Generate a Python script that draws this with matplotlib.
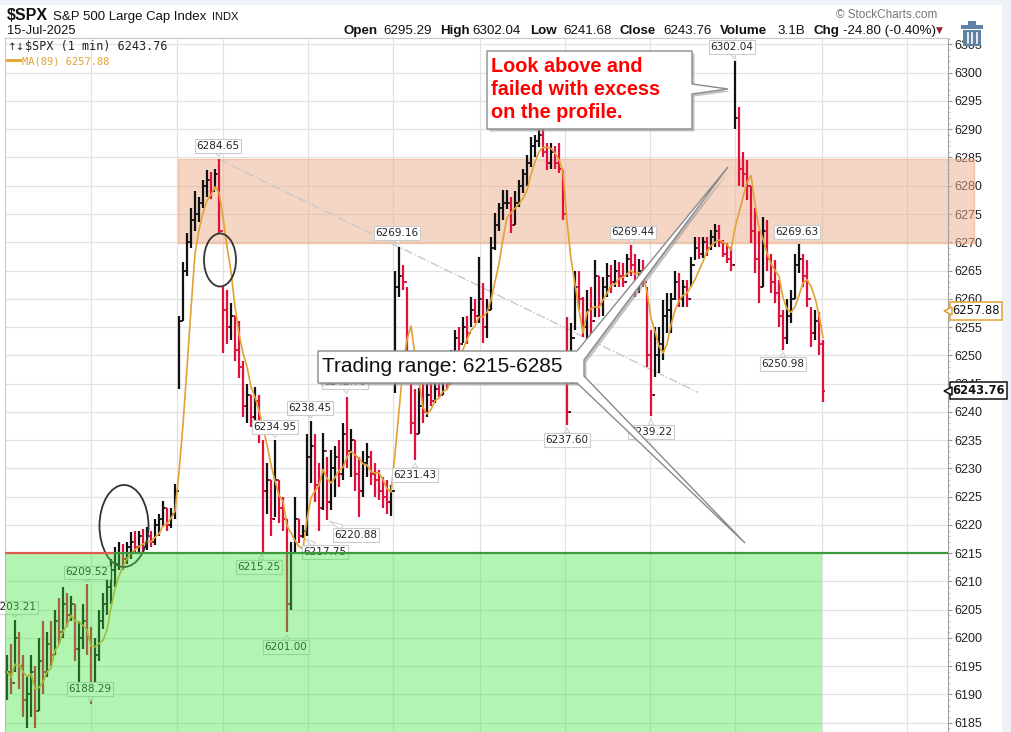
import numpy as np
import pandas as pd
import matplotlib
matplotlib.use("Agg")
import matplotlib.pyplot as plt
import matplotlib.transforms as mtransforms
from matplotlib.patches import Rectangle, Ellipse, Polygon
from matplotlib.lines import Line2D
from matplotlib.ticker import MultipleLocator

plt.rcParams['font.family'] = ['Liberation Sans', 'DejaVu Sans']

# ---------------- data ----------------
highs = [
    6197, 6199, 6203.21, 6201, 6197, 6193, 6197, 6195, 6200, 6203,
    6201, 6203, 6205, 6207, 6209, 6208, 6207.5, 6206, 6203, 6206,
    6209.52, 6202, 6200, 6205, 6208, 6211, 6214, 6216, 6216.9, 6216.7,
    6217, 6218.7, 6219, 6219, 6219.3, 6219.6, 6219, 6221, 6222, 6224.3,
    6223, 6223, 6227.3,
    6257, 6266.5, 6271.6, 6276, 6279, 6278, 6281, 6282.8, 6282.5, 6283, 6284.65,
    6262, 6261.5, 6259.2, 6257, 6256, 6249, 6245, 6243, 6244.4, 6243,
    6235, 6231, 6228, 6234.95, 6228, 6225, 6221, 6217, 6225, 6221,
    6220, 6236, 6238.45, 6236, 6231, 6236.2, 6232, 6233.2, 6234, 6235,
    6238, 6242.70, 6237, 6235, 6232, 6233, 6234.5, 6233, 6231, 6229.7,
    6228.5, 6228, 6227,
    6265, 6269.16, 6266, 6262, 6247, 6244, 6244.3, 6245, 6245, 6245.6,
    6246, 6246, 6247.4, 6248, 6251, 6254.5, 6255, 6256.8, 6257, 6260.3,
    6260, 6267.4, 6262.8, 6260, 6271, 6275.1, 6277, 6279.2, 6279.2, 6278,
    6279, 6281, 6283, 6285.5, 6288.6, 6289, 6289.8, 6290.2, 6287.5, 6287.5,
    6287, 6287.5, 6282.8,
    6256.8, 6255.7, 6265, 6265, 6260.3, 6261.5, 6262, 6266.8, 6264, 6263.8,
    6266.3, 6266, 6266.8, 6266.5, 6266.3, 6268, 6269.44, 6268, 6267, 6266.8,
    6262, 6254.5, 6255, 6255, 6259.8, 6261, 6261, 6265, 6264.5, 6263.3,
    6263.3, 6267.4, 6271, 6271, 6271, 6271, 6272.2, 6273.3, 6273, 6270.4,
    6269.8, 6269.2,
    6302.04, 6294, 6286, 6284.5, 6280, 6276, 6272, 6274.5, 6274, 6268,
    6266.8, 6263.3, 6258, 6260, 6261.5, 6268, 6269.63, 6268, 6266.8, 6258.5,
    6258, 6257.6, 6252.7,
]
lows = [
    6189, 6190, 6194, 6191, 6186, 6184, 6186, 6184, 6187, 6190,
    6193, 6195, 6197, 6199, 6200, 6202, 6203, 6196, 6191, 6198,
    6197, 6188.29, 6190, 6196, 6201.5, 6204, 6206, 6209, 6212, 6212,
    6213, 6214, 6215, 6215, 6215, 6215.5, 6216, 6216.5, 6218, 6219.6,
    6219, 6219.5, 6221,
    6244, 6256, 6264, 6269, 6272, 6273.5, 6276, 6278, 6277.6, 6279.5, 6271.6,
    6250.4, 6252, 6252.7, 6249, 6246, 6239, 6238, 6237.3, 6236, 6234.5,
    6215.25, 6222, 6218, 6221.4, 6220.3, 6219, 6201.00, 6205, 6215, 6216.8,
    6217.75, 6218, 6227.4, 6224, 6219, 6222.6, 6220.88, 6222.6, 6225, 6226.7,
    6228, 6230, 6228.4, 6226, 6221.4, 6225, 6228.4, 6227, 6225, 6224.4,
    6223, 6222, 6221.5,
    6243.3, 6260.3, 6261.5, 6246.2, 6236, 6231.43, 6236, 6238, 6239, 6241,
    6241.5, 6242.6, 6243, 6243.8, 6245, 6249, 6250.4, 6252.2, 6252, 6255,
    6255.7, 6255.7, 6252.2, 6253, 6258, 6268.6, 6272, 6273.9, 6275.8, 6271.6,
    6273, 6276.2, 6278.7, 6280, 6283.3, 6285, 6286.8, 6285, 6282.8, 6283,
    6283, 6282.2, 6273.9,
    6237.60, 6245, 6254.5, 6258, 6253.2, 6250.9, 6252, 6256.8, 6256.8, 6257,
    6260.3, 6261, 6262, 6262, 6262, 6263.8, 6264, 6260.3, 6261, 6262,
    6248, 6239.22, 6246.2, 6246.8, 6249.2, 6254, 6254, 6259.8, 6258.5, 6258.5,
    6258.5, 6262, 6266.8, 6267, 6267.2, 6267.5, 6268.6, 6269.2, 6269.2, 6267.4,
    6266.3, 6265,
    6290, 6280, 6279.8, 6277.5, 6269.8, 6264.5, 6259.2, 6262, 6265, 6261,
    6259.2, 6255, 6250.98, 6252, 6255.7, 6260, 6264.5, 6262, 6258.5, 6251.5,
    6252.7, 6250, 6241.68,
]
closes = [
    6194, 6192, 6200, 6195, 6189, 6190, 6194, 6187, 6196, 6194,
    6199, 6197, 6203, 6201, 6206, 6204, 6206, 6198, 6200, 6203,
    6200, 6192, 6197, 6203, 6206, 6209, 6212, 6213, 6215, 6214,
    6216, 6217, 6216, 6218, 6216, 6218, 6217, 6220, 6221, 6223,
    6220, 6222, 6226,
    6256, 6265, 6270, 6274, 6275, 6277, 6280, 6281, 6279, 6282, 6272,
    6258, 6255, 6257, 6251, 6248, 6241, 6243, 6239, 6242, 6236,
    6226, 6228, 6221, 6228, 6223, 6221, 6206, 6215, 6221, 6218,
    6219, 6232, 6234, 6227, 6223, 6233, 6224, 6230, 6232, 6229,
    6236, 6233, 6235, 6229, 6226, 6231, 6232, 6229, 6228, 6226,
    6225, 6224, 6226,
    6262, 6264, 6263, 6249, 6238, 6236, 6241, 6240, 6243, 6242,
    6244, 6243, 6246, 6245, 6250, 6253, 6252, 6255, 6254, 6258,
    6257, 6260, 6255, 6258, 6269, 6273, 6276, 6277, 6277, 6273,
    6277, 6280, 6282, 6284, 6287, 6288, 6289, 6286, 6284, 6286,
    6284, 6283, 6275,
    6240, 6253, 6262, 6260, 6255, 6258, 6256, 6264, 6259, 6262,
    6264, 6263, 6265, 6264, 6263, 6267, 6266, 6262, 6265, 6263,
    6250, 6243, 6250, 6252, 6257, 6258, 6260, 6263, 6260, 6262,
    6260, 6266, 6269, 6268, 6270, 6269, 6271, 6272, 6270, 6268,
    6267, 6266,
    6292, 6283, 6282, 6280, 6272, 6267, 6262, 6272, 6267, 6263,
    6261, 6257, 6253, 6257, 6260, 6266, 6267, 6264, 6260, 6254,
    6256, 6252, 6243.76,
]
ma_window_bars = 5                   # MA(89) of 1-min bars ~ 5 plotted bars
ma_reported = 6257.88
y_ticks = list(range(6185, 6306, 5))
day_boundaries = [21, 42.5, 54, 75.25, 96.5, 118.25, 139.5, 160.75, 182, 203.75, 225]
trading_range = (6215, 6285)
resistance_zone = (6269.8, 6284.65)

# labelled highs/lows: value, kind, label offset (px)
label_specs = [
    (6284.65, 'H', -1, 13.5), (6269.16, 'H', -2, 14), (6302.04, 'H', -3, 14),
    (6269.44, 'H', 2, 13), (6269.63, 'H', -2, 12.5), (6242.70, 'H', -2, 14.5),
    (6238.45, 'H', -1, 12.6), (6234.95, 'H', 0, 13.4), (6231.43, 'L', 0, -14.7),
    (6237.60, 'L', 0, -14.6), (6239.22, 'L', 0, -16), (6250.98, 'L', 0, -14.3),
    (6220.88, 'L', 29, -15), (6217.75, 'L', 22, -14.3), (6215.25, 'L', -4, -15),
    (6201.00, 'L', -1, -15), (6209.52, 'H', 0, 11.6), (6203.21, 'H', 0, 12.3),
    (6188.29, 'L', -1, 15),
]

# ---------------- figure ----------------
W, H = 1011, 732
fig = plt.figure(figsize=(W / 100, H / 100), dpi=100)
fig.patch.set_facecolor('white')


def fx(x):
    return x / W


def fy(y):
    return 1 - y / H


ax = fig.add_axes([fx(5), 0, fx(948) - fx(5), fy(37.5)])
ax.set_xlim(-0.5, 235.25)
ax.set_ylim(6183.35, 6306.23)

idx = np.arange(len(closes))
hi = np.array(highs)
lo = np.array(lows)
cl = np.array(closes)
op = np.concatenate([[cl[0]], cl[:-1]])
cols = np.where(cl >= op, '#111111', '#e0103c')

# grid
ax.set_yticks(y_ticks)
ax.set_xticks(day_boundaries)
ax.tick_params(axis='x', length=0, labelbottom=False)
ax.grid(True, color='#e2e2e2', lw=0.9, zorder=0)
ax.set_axisbelow(True)
ax.yaxis.tick_right()
ax.yaxis.set_minor_locator(MultipleLocator(1))
ax.tick_params(axis='y', which='major', length=3, width=0.8, color='#999999',
               pad=1.5, labelsize=9, labelcolor='#222222')
ax.tick_params(axis='y', which='minor', length=1.5, width=0.6, color='#bbbbbb')
for s in ['top', 'left']:
    ax.spines[s].set_color('#c8c8c8')
ax.spines['right'].set_color('#a0a0a0')
ax.spines['bottom'].set_visible(False)

# resistance zone (orange)
ax.add_patch(Rectangle((42.75, resistance_zone[0]), 241.75 - 42.75,
                       resistance_zone[1] - resistance_zone[0],
                       fc='#edaf8d', alpha=0.5, ec='#f0a070', lw=1,
                       zorder=0.6, clip_on=False))

# trend line through the two highs
i1 = highs.index(6284.65)
i2 = highs.index(6269.16)
slope = (6269.16 - 6284.65) / (i2 - i1)
x_end = 172.75
ax.plot([i1, x_end], [6284.65, 6284.65 + slope * (x_end - i1)],
        color='#c8c8c8', lw=1, ls='-.', zorder=1.5)

# bars
ax.vlines(idx, lo, hi, colors=cols, lw=1.6, zorder=3)
ax.hlines(op, idx - 0.55, idx, colors=cols, lw=1.3, zorder=3)
ax.hlines(cl, idx, idx + 0.55, colors=cols, lw=1.3, zorder=3)

# moving average
ma = pd.Series(cl).rolling(ma_window_bars, min_periods=1).mean()
ax.plot(idx, ma, color='#e2a232', lw=1.2, zorder=3.2)

# high / low labels
for val, kind, dx, dy in label_specs:
    i = (highs if kind == 'H' else lows).index(val)
    ax.annotate(f'{val:.2f}', xy=(i, val), xytext=(dx, dy),
                textcoords='offset pixels', ha='center', va='center',
                fontsize=7.5, color='#222222', family='DejaVu Sans',
                bbox=dict(boxstyle='square,pad=0.18', fc='white', ec='#cccccc', lw=0.8),
                arrowprops=dict(arrowstyle='wedge,tail_width=0.5,shrink_factor=0.5',
                                fc='white', ec='#cccccc', lw=0.7, shrinkA=0, shrinkB=2),
                zorder=4, annotation_clip=False)

# ellipses
ax.add_patch(Ellipse((29.25, 6219.8), 12.25, 14.5, fill=False, ec='#333333', lw=1.3, zorder=4.2))
ax.add_patch(Ellipse((53.25, 6266.86), 8, 9.38, fill=False, ec='#333333', lw=1.3, zorder=4.2))

# support zone (green overlay)
ax.add_patch(Rectangle((-0.5, 6170), 203.75 + 0.5, trading_range[0] - 6170,
                       fc='#40e640', alpha=0.4, ec='none', zorder=4.5))
ax.plot([-0.5, 27], [trading_range[0]] * 2, color='#e05a50', lw=1.6, zorder=4.6)
ax.plot([27, 235.25], [trading_range[0]] * 2, color='#3c9a3c', lw=1.6, zorder=4.6)

# right-side value flags
blend = mtransforms.blended_transform_factory(ax.transAxes, ax.transData)
for val, ec, bold in [(ma_reported, '#e2a232', False), (closes[-1], '#111111', True)]:
    ax.annotate(f'{val:.2f}', xy=(1.0, val), xycoords=blend, xytext=(4, 0),
                textcoords='offset pixels', ha='left', va='center', fontsize=8.3,
                family='DejaVu Sans', fontweight='bold' if bold else 'normal',
                color='#111111',
                bbox=dict(boxstyle='square,pad=0.2', fc='white', ec=ec, lw=1.1),
                annotation_clip=False, zorder=6)
    ax.plot([1.0], [val], marker='<', ms=6, mfc='white', mec=ec, mew=1.1,
            transform=blend, clip_on=False, zorder=6.5)

# ---------------- figure-level decorations ----------------
fig.add_artist(Rectangle((0, fy(5)), 1, 5 / H, transform=fig.transFigure,
                         fc='#eef2f7', ec='none', zorder=-1))
fig.add_artist(Rectangle((fx(1002), 0), 1 - fx(1002), 1, transform=fig.transFigure,
                         fc='#eef2f7', ec='none', zorder=-1))

# header
fig.text(fx(7), fy(20), '$SPX', fontsize=11.5, fontweight='bold', color='#111111')
fig.text(fx(53), fy(20), 'S&P 500 Large Cap Index', fontsize=9.5, color='#111111')
fig.text(fx(212), fy(20), 'INDX', fontsize=8, color='#111111')
fig.text(fx(7), fy(34), '15-Jul-2025', fontsize=9.3, color='#111111')
fig.text(fx(836), fy(18), '© StockCharts.com', fontsize=8.5, color='#777777')
pieces = [('Open', True, 343), ('6295.29', False, 383), ('High', True, 440),
          ('6302.04', False, 472), ('Low', True, 530), ('6241.68', False, 563),
          ('Close', True, 620), ('6243.76', False, 663), ('Volume', True, 720),
          ('3.1B', False, 777), ('Chg', True, 813), ('-24.80 (-0.40%)', False, 843)]
for t, b, x in pieces:
    fig.text(fx(x), fy(34), t, fontsize=9.6, fontweight='bold' if b else 'normal',
             color='#111111')
fig.text(fx(936), fy(33), '▼', fontsize=6.5, color='#9b1b30', family='DejaVu Sans')

# legend inside plot
fig.text(fx(7.5), fy(50), '↑↓', fontsize=7.5, color='#222222', family='DejaVu Sans')
fig.text(fx(25), fy(50), '$SPX (1 min) 6243.76', fontsize=8.5, color='#222222',
         family='DejaVu Sans Mono')
fig.add_artist(Line2D([fx(7), fx(20)], [fy(60), fy(60)], transform=fig.transFigure,
                      color='#e2a232', lw=2))
fig.text(fx(22), fy(64), 'MA(89) 6257.88', fontsize=7.5, color='#e2a232',
         family='DejaVu Sans Mono')

# trash icon
icon = '#5f81a3'
fig.add_artist(Rectangle((fx(968), fy(25)), fx(8), 4 / H, transform=fig.transFigure,
                         fc=icon, ec='none', zorder=7))
fig.add_artist(Rectangle((fx(961), fy(29)), fx(22), 4 / H, transform=fig.transFigure,
                         fc=icon, ec='none', zorder=7))
fig.add_artist(Rectangle((fx(963), fy(46)), fx(18), 16 / H, transform=fig.transFigure,
                         fc=icon, ec='none', zorder=7))
for xs in (967.5, 972, 976.5):
    fig.add_artist(Line2D([fx(xs), fx(xs)], [fy(33), fy(43)], transform=fig.transFigure,
                          color='white', lw=1.2, zorder=7.5))


def callout(pts, z=8):
    sh = [(x + 2.5, y + 2.5) for x, y in pts]
    fig.add_artist(Polygon([(fx(x), fy(y)) for x, y in sh], closed=True,
                           transform=fig.transFigure, fc='#9a9a9a', ec='none',
                           alpha=0.6, zorder=z))
    fig.add_artist(Polygon([(fx(x), fy(y)) for x, y in pts], closed=True,
                           transform=fig.transFigure, fc='white', ec='#8a8a8a',
                           lw=1, zorder=z + 0.1))


callout([(487, 51), (692, 51), (692, 84), (728, 89), (692, 94), (692, 129), (487, 129)])
for t, yb in [('Look above and', 72), ('failed with excess', 95), ('on the profile.', 118)]:
    fig.text(fx(491), fy(yb), t, fontsize=14.3, fontweight='bold', color='#ff0000',
             zorder=9)

callout([(318, 351), (577, 351), (728, 167), (584, 360), (584, 376), (745, 543),
         (577, 383), (318, 383)])
fig.text(fx(322), fy(372.5), 'Trading range: 6215-6285', fontsize=15, color='#111111',
         zorder=9)

fig.savefig('out.png', dpi=100)
